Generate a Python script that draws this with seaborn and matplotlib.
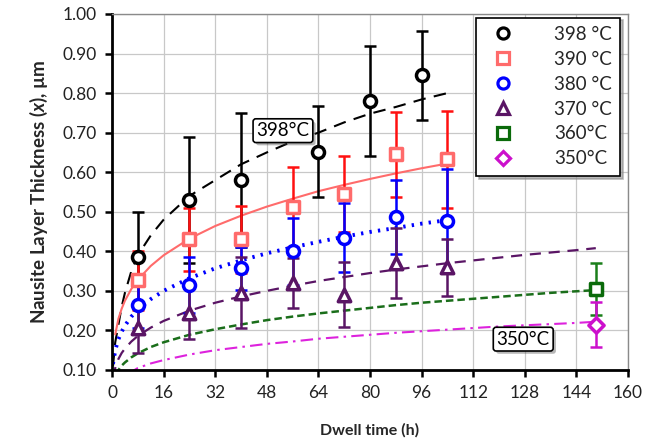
import numpy as np
import pandas as pd
import matplotlib
matplotlib.use("Agg")
import matplotlib.pyplot as plt
import seaborn as sns
from matplotlib.lines import Line2D
import matplotlib.patheffects as pe

# ---------------- data ----------------
LABELS = ["398 °C", "390 °C", "380 °C", "370 °C", "360°C", "350°C"]

T_398 = [8, 24, 40, 64, 80, 96]
X_398 = [0.385, 0.53, 0.58, 0.652, 0.78, 0.845]
E_398 = [0.115, 0.16, 0.17, 0.115, 0.14, 0.112]

T_390 = [8, 24, 40, 56, 72, 88, 104]
X_390 = [0.327, 0.430, 0.430, 0.512, 0.545, 0.645, 0.633]
E_390 = [0.075, 0.08, 0.085, 0.10, 0.095, 0.108, 0.123]

T_380 = [8, 24, 40, 56, 72, 88, 104]
X_380 = [0.265, 0.315, 0.357, 0.400, 0.434, 0.487, 0.477]
E_380 = [0.06, 0.07, 0.055, 0.085, 0.087, 0.094, 0.13]

T_370 = [8, 24, 40, 56, 72, 88, 104]
X_370 = [0.206, 0.245, 0.295, 0.320, 0.290, 0.370, 0.360]
E_370 = [0.063, 0.067, 0.09, 0.063, 0.082, 0.088, 0.072]

T_360 = [150]
X_360 = [0.305]
E_360 = [0.065]

T_350 = [150]
X_350 = [0.214]
E_350 = [0.057]

# fitted trend curves
T_FIT = [0.3, 1, 2, 3, 4, 6, 8, 12, 16, 24, 32, 40, 48, 56, 64, 72, 80, 88, 96, 104]
T_FIT_LONG = T_FIT + [112, 120, 128, 136, 144, 150]
FIT_398 = [0.11, 0.17, 0.215, 0.26, 0.295, 0.35, 0.39, 0.44, 0.48, 0.54, 0.58, 0.62,
           0.65, 0.678, 0.70, 0.726, 0.748, 0.765, 0.784, 0.80]
FIT_390 = [np.nan, 0.19, 0.23, 0.255, 0.275, 0.305, 0.328, 0.363, 0.39, 0.432, 0.464,
           0.49, 0.513, 0.533, 0.552, 0.568, 0.583, 0.597, 0.61, 0.622]
FIT_380 = [0.115, 0.15, 0.178, 0.197, 0.212, 0.235, 0.252, 0.279, 0.30, 0.332, 0.357,
           0.377, 0.395, 0.41, 0.424, 0.437, 0.449, 0.459, 0.47, 0.479]
FIT_370 = [0.08, 0.105, 0.128, 0.143, 0.154, 0.172, 0.186, 0.207, 0.224, 0.25, 0.27,
           0.286, 0.30, 0.313, 0.325, 0.335, 0.345, 0.354, 0.362, 0.37, 0.377, 0.384,
           0.391, 0.397, 0.403, 0.408]
FIT_360 = [0.06, 0.083, 0.1, 0.111, 0.119, 0.132, 0.142, 0.158, 0.17, 0.189, 0.203,
           0.215, 0.226, 0.235, 0.243, 0.25, 0.257, 0.264, 0.27, 0.275, 0.28, 0.285,
           0.29, 0.295, 0.299, 0.302]
FIT_350 = [0.04, 0.062, 0.074, 0.081, 0.088, 0.095, 0.105, 0.1165, 0.125, 0.139, 0.15,
           0.158, 0.166, 0.172, 0.179, 0.184, 0.189, 0.194, 0.198, 0.202, 0.206, 0.21,
           0.213, 0.216, 0.219, 0.222]

X_TICKS = list(range(0, 161, 16))
Y_TICKS = [0.10, 0.20, 0.30, 0.40, 0.50, 0.60, 0.70, 0.80, 0.90, 1.00]

# ---------------- style ----------------
sns.set_theme(style="white")
plt.rcParams["font.family"] = ["Lato", "DejaVu Sans"]
plt.rcParams["mathtext.fontset"] = "custom"
plt.rcParams["mathtext.it"] = "Lato:italic:bold"
plt.rcParams["mathtext.rm"] = "Lato:bold"

fig = plt.figure(figsize=(6.46, 4.47), dpi=100)
ax = fig.add_axes([0.1734, 0.1723, 0.7988, 0.7964])

series = [
    dict(t=T_398, x=X_398, e=E_398, ft=T_FIT, fit=FIT_398, mk="o", mec="black", ec="black",
         lc="black", ls=(0, (6, 4)), lw=1.5, ms=75),
    dict(t=T_390, x=X_390, e=E_390, ft=T_FIT, fit=FIT_390, mk="s", mec="#ff6b6b", ec="#ff1010",
         lc="#ff6b6b", ls="-", lw=1.5, ms=70),
    dict(t=T_380, x=X_380, e=E_380, ft=T_FIT, fit=FIT_380, mk="o", mec="#0000ff", ec="#0000ff",
         lc="#0000ff", ls=(0, (0.6, 1.6)), lw=2.8, ms=75),
    dict(t=T_370, x=X_370, e=E_370, ft=T_FIT_LONG, fit=FIT_370, mk="^", mec="#5a1565", ec="#5a1565",
         lc="#5a1565", ls=(0, (5, 3.5)), lw=1.6, ms=80),
    dict(t=T_360, x=X_360, e=E_360, ft=T_FIT_LONG, fit=FIT_360, mk="s", mec="#0a6a0a", ec="#1a7f1a",
         lc="#1a6e1a", ls=(0, (3, 1.6)), lw=1.8, ms=70),
    dict(t=T_350, x=X_350, e=E_350, ft=T_FIT_LONG, fit=FIT_350, mk="D", mec="#cc10cc", ec="#cc10cc",
         lc="#dd22dd", ls=(0, (6, 2.5, 1.2, 2.5)), lw=1.5, ms=60),
]

# trend curves
for s in series:
    df = pd.DataFrame({"t": s["ft"], "v": s["fit"]}).dropna()
    sns.lineplot(data=df, x="t", y="v", ax=ax, color=s["lc"], linestyle=s["ls"],
                 linewidth=s["lw"], zorder=2, estimator=None, sort=True)

# error bars
for s in series:
    ax.errorbar(s["t"], s["x"], yerr=s["e"], fmt="none", ecolor=s["ec"],
                elinewidth=1.8, capsize=4, capthick=1.8, zorder=3)

# markers
for s in series:
    sns.scatterplot(x=s["t"], y=s["x"], ax=ax, marker=s["mk"], s=s["ms"], color="white",
                    edgecolor=s["mec"], linewidth=2.5, zorder=5)

ax.set_xlim(0, 160)
ax.set_ylim(0.10, 1.00)
ax.set_xticks(X_TICKS)
ax.set_yticks(Y_TICKS)
ax.set_yticklabels([f"{v:.2f}" for v in Y_TICKS])
ax.tick_params(axis="both", which="major", direction="out", length=5, width=1.8,
               labelsize=12.5, color="black", labelcolor="#222222", pad=6,
               bottom=True, left=True)
ax.grid(True, color="#c8c8c8", linewidth=0.9)
ax.set_axisbelow(True)
for side in ["left", "bottom"]:
    ax.spines[side].set_color("black")
    ax.spines[side].set_linewidth(2.0)
for side in ["top", "right"]:
    ax.spines[side].set_color("#8a8a8a")
    ax.spines[side].set_linewidth(1.0)

ax.set_xlabel("Dwell time (h)", fontsize=11.5, fontweight="bold", labelpad=16)
ax.set_ylabel(r"Nausite Layer Thickness ($\mathit{x}$), µm", fontsize=13.5,
              fontweight="bold", labelpad=9)

# legend
handles = [Line2D([], [], linestyle="none", marker=s["mk"], markersize=8 if s["mk"] != "D" else 7,
                  markerfacecolor="white", markeredgecolor=s["mec"], markeredgewidth=2.3)
           for s in series]
leg = ax.legend(handles, LABELS, loc="upper right", bbox_to_anchor=(0.985, 0.99),
                fontsize=13.5, frameon=True, fancybox=False, shadow={"color": "0.55", "alpha": 0.6},
                borderpad=0.45, labelspacing=0.42, handletextpad=1.7, borderaxespad=0.0,
                handlelength=2.0)
leg.get_frame().set_edgecolor("black")
leg.get_frame().set_linewidth(1.2)

# curve annotations
for txt, tx, ty in [("398°C", 53, 0.705), ("350°C", 127.5, 0.178)]:
    t = ax.text(tx, ty, txt, fontsize=13.5, ha="center", va="center", color="black", zorder=6,
                bbox=dict(boxstyle="round,pad=0.18,rounding_size=0.15", fc="white", ec="black", lw=1.2))
    t.get_bbox_patch().set_path_effects([pe.SimplePatchShadow(offset=(2, -2), alpha=0.4), pe.Normal()])

fig.savefig("out.png", dpi=100)
